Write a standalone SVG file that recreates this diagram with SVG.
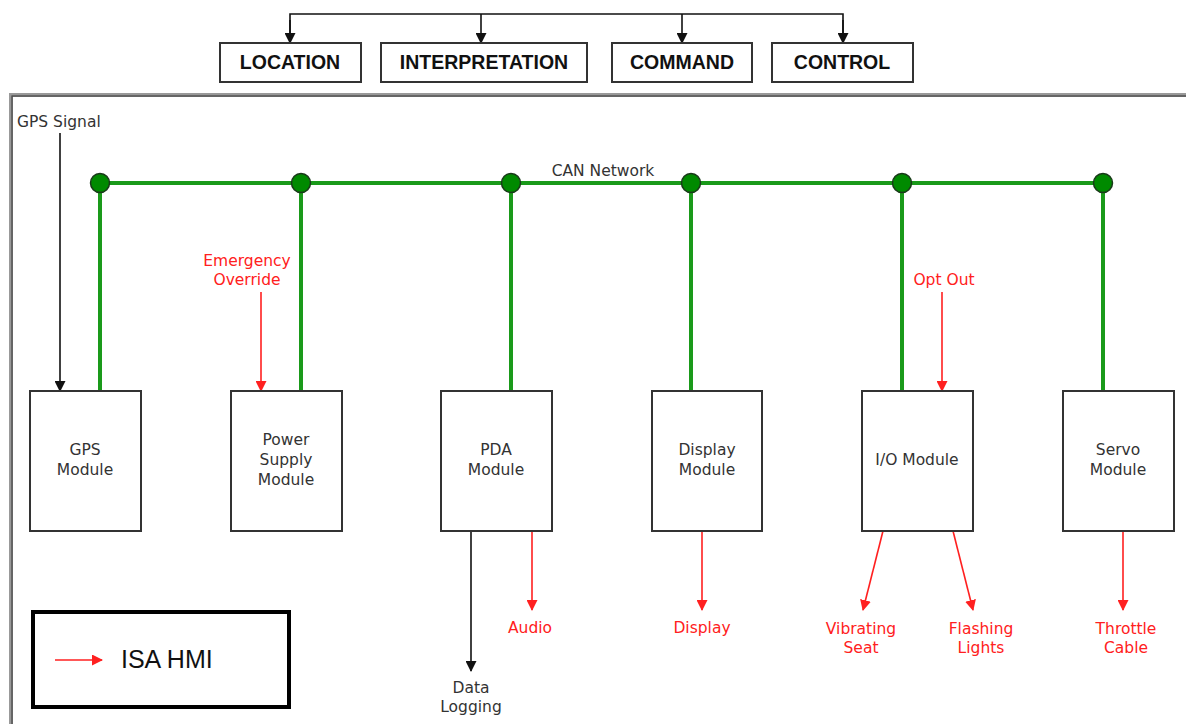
<svg xmlns="http://www.w3.org/2000/svg" width="1186" height="724" viewBox="0 0 1186 724">
<style>
.top{fill:#fff;stroke:#333;stroke-width:2}
.tt{font-family:"Liberation Sans",Arial,sans-serif;font-weight:bold;font-size:19.5px;fill:#111;text-anchor:middle}
.mod{fill:#fff;stroke:#333;stroke-width:2}
.mt{font-family:"DejaVu Sans",Verdana,sans-serif;font-size:15.5px;fill:#333;text-anchor:middle}
.rt{font-family:"DejaVu Sans",Verdana,sans-serif;font-size:15.5px;fill:#ff2020;text-anchor:middle}
.bk{stroke:#111;stroke-width:1.6;fill:none}
.rd{stroke:#ff2020;stroke-width:1.6;fill:none}
.gr{stroke:#1a9a1a;stroke-width:4;fill:none}
.node{fill:#008a00;stroke:#1a3a1a;stroke-width:1.5}
</style>
<defs>
<marker id="ab" markerWidth="11" markerHeight="11" refX="10" refY="5.5" orient="auto" markerUnits="userSpaceOnUse"><path d="M0,0 L11,5.5 L0,11 Z" fill="#111"/></marker>
<marker id="ar" markerWidth="11" markerHeight="11" refX="10" refY="5.5" orient="auto" markerUnits="userSpaceOnUse"><path d="M0,0 L11,5.5 L0,11 Z" fill="#ff2020"/></marker>
</defs>
<rect width="1186" height="724" fill="#fff"/>
<g id="frame">
<rect x="11" y="95" width="1185" height="640" fill="none" stroke="#999" stroke-width="4"/>
<rect x="12" y="96" width="1185" height="640" fill="none" stroke="#444" stroke-width="1.2"/>
</g>
<g id="connectors">
<path class="bk" d="M290,43 V14 H843 V43"/>
<line class="bk" x1="290" y1="20" x2="290" y2="43" marker-end="url(#ab)"/>
<line class="bk" x1="481" y1="14" x2="481" y2="43" marker-end="url(#ab)"/>
<line class="bk" x1="682" y1="14" x2="682" y2="43" marker-end="url(#ab)"/>
<line class="bk" x1="843" y1="20" x2="843" y2="43" marker-end="url(#ab)"/>
<line class="gr" x1="100" y1="183" x2="1103" y2="183"/>
<line class="gr" x1="100" y1="183" x2="100" y2="391"/>
<line class="gr" x1="301" y1="183" x2="301" y2="391"/>
<line class="gr" x1="511" y1="183" x2="511" y2="391"/>
<line class="gr" x1="691" y1="183" x2="691" y2="391"/>
<line class="gr" x1="902" y1="183" x2="902" y2="391"/>
<line class="gr" x1="1103" y1="183" x2="1103" y2="391"/>
<circle class="node" cx="100" cy="183" r="9.5"/>
<circle class="node" cx="301" cy="183" r="9.5"/>
<circle class="node" cx="511" cy="183" r="9.5"/>
<circle class="node" cx="691" cy="183" r="9.5"/>
<circle class="node" cx="902" cy="183" r="9.5"/>
<circle class="node" cx="1103" cy="183" r="9.5"/>
<line class="bk" x1="60" y1="133" x2="60" y2="391" marker-end="url(#ab)"/>
<line class="rd" x1="261" y1="292" x2="261" y2="391" marker-end="url(#ar)"/>
<line class="rd" x1="942" y1="292" x2="942" y2="391" marker-end="url(#ar)"/>
<line class="bk" x1="471" y1="531" x2="471" y2="671" marker-end="url(#ab)"/>
<line class="rd" x1="532" y1="531" x2="532" y2="610" marker-end="url(#ar)"/>
<line class="rd" x1="702" y1="531" x2="702" y2="610" marker-end="url(#ar)"/>
<line class="rd" x1="883" y1="531" x2="863" y2="610" marker-end="url(#ar)"/>
<line class="rd" x1="953" y1="531" x2="973" y2="610" marker-end="url(#ar)"/>
<line class="rd" x1="1123" y1="531" x2="1123" y2="610" marker-end="url(#ar)"/>
</g>
<g id="location"><rect class="top" x="220" y="43" width="141" height="39"/><text class="tt" x="290" y="69">LOCATION</text></g>
<g id="interpretation"><rect class="top" x="381" y="43" width="206" height="39"/><text class="tt" x="484" y="69">INTERPRETATION</text></g>
<g id="command"><rect class="top" x="612" y="43" width="140" height="39"/><text class="tt" x="682" y="69">COMMAND</text></g>
<g id="control"><rect class="top" x="772" y="43" width="141" height="39"/><text class="tt" x="842" y="69">CONTROL</text></g>
<text class="mt" x="17" y="127" style="text-anchor:start">GPS Signal</text>
<text class="mt" x="603" y="176">CAN Network</text>
<text class="rt" x="247" y="266">Emergency</text>
<text class="rt" x="247" y="285">Override</text>
<text class="rt" x="944" y="285">Opt Out</text>
<g id="gps"><rect class="mod" x="30" y="391" width="111" height="140"/><text class="mt" x="85" y="455">GPS</text><text class="mt" x="85" y="475">Module</text></g>
<g id="power"><rect class="mod" x="231" y="391" width="111" height="140"/><text class="mt" x="286" y="445">Power</text><text class="mt" x="286" y="465">Supply</text><text class="mt" x="286" y="485">Module</text></g>
<g id="pda"><rect class="mod" x="441" y="391" width="111" height="140"/><text class="mt" x="496" y="455">PDA</text><text class="mt" x="496" y="475">Module</text></g>
<g id="display"><rect class="mod" x="652" y="391" width="110" height="140"/><text class="mt" x="707" y="455">Display</text><text class="mt" x="707" y="475">Module</text></g>
<g id="io"><rect class="mod" x="862" y="391" width="111" height="140"/><text class="mt" x="917" y="465">I/O Module</text></g>
<g id="servo"><rect class="mod" x="1063" y="391" width="111" height="140"/><text class="mt" x="1118" y="455">Servo</text><text class="mt" x="1118" y="475">Module</text></g>
<text class="mt" x="471" y="693">Data</text>
<text class="mt" x="471" y="712">Logging</text>
<text class="rt" x="530" y="633">Audio</text>
<text class="rt" x="702" y="633">Display</text>
<text class="rt" x="861" y="634">Vibrating</text>
<text class="rt" x="861" y="653">Seat</text>
<text class="rt" x="981" y="634">Flashing</text>
<text class="rt" x="981" y="653">Lights</text>
<text class="rt" x="1126" y="634">Throttle</text>
<text class="rt" x="1126" y="653">Cable</text>
<g id="legend"><rect x="33" y="612" width="256" height="95" fill="#fff" stroke="#000" stroke-width="4"/>
<line class="rd" x1="55" y1="660" x2="102" y2="660" marker-end="url(#ar)"/>
<text x="121" y="668" font-family="Liberation Sans,Arial,sans-serif" font-size="25" fill="#111">ISA HMI</text></g>
</svg>
